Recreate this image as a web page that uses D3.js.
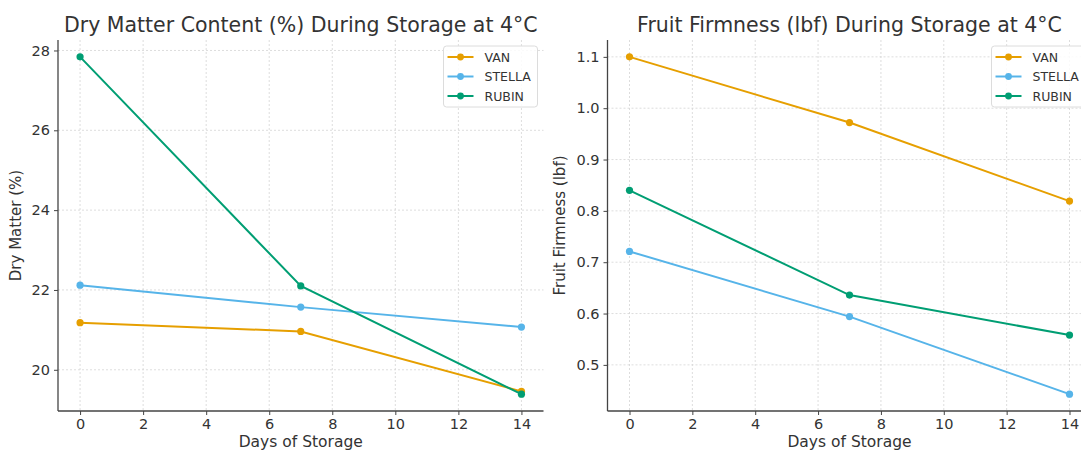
<!DOCTYPE html>
<html>
<head>
<meta charset="utf-8">
<script src="https://cdn.jsdelivr.net/npm/d3@7"></script>
<style>
  body { margin: 0; background: #fff; }
  svg { font-family: 'DejaVu Sans', sans-serif; }
</style>
</head>
<body>
<svg id="chart" width="1081" height="450"></svg>
<script>
const days = [0, 7, 14];
const varieties = ['VAN', 'STELLA', 'RUBIN'];
const colors = ['#E69F00', '#56B4E9', '#009E73'];

const dryVan = [21.18, 20.96, 19.46];
const dryStella = [22.12, 21.57, 21.07];
const dryRubin = [27.84, 22.1, 19.39];

const firmVan = [1.10, 0.972, 0.819];
const firmStella = [0.721, 0.594, 0.443];
const firmRubin = [0.840, 0.636, 0.558];

const xTicks = [0, 2, 4, 6, 8, 10, 12, 14];
const dryTicks = [20, 22, 24, 26, 28];
const firmTicks = [0.5, 0.6, 0.7, 0.8, 0.9, 1.0, 1.1];

const svg = d3.select('#chart');

function panel(opts) {
  const { left, right, top, bottom, title, ylabel, series, yTicks, yFmt, ylabelX } = opts;

  // matplotlib-style 5% margins
  const all = series.flat();
  const ymin = d3.min(all), ymax = d3.max(all);
  const ypad = (ymax - ymin) * 0.05;
  const x = d3.scaleLinear().domain([-0.7, 14.7]).range([left, right]);
  const y = d3.scaleLinear().domain([ymin - ypad, ymax + ypad]).range([bottom, top]);

  const g = svg.append('g');

  // grid
  g.append('g')
    .selectAll('line')
    .data(xTicks)
    .enter()
    .append('line')
    .attr('x1', (d) => x(d)).attr('x2', (d) => x(d))
    .attr('y1', top).attr('y2', bottom)
    .attr('stroke', '#d4d4d4').attr('stroke-width', 0.8)
    .attr('stroke-dasharray', '2,2');

  g.append('g')
    .selectAll('line')
    .data(yTicks)
    .enter()
    .append('line')
    .attr('x1', left).attr('x2', right)
    .attr('y1', (d) => y(d)).attr('y2', (d) => y(d))
    .attr('stroke', '#d4d4d4').attr('stroke-width', 0.8)
    .attr('stroke-dasharray', '2,2');

  // axes
  const xAxis = g.append('g')
    .attr('transform', `translate(0, ${bottom})`)
    .call(d3.axisBottom(x).tickValues(xTicks).tickSize(4).tickPadding(4).tickFormat(d3.format('d')));
  const yAxis = g.append('g')
    .attr('transform', `translate(${left}, 0)`)
    .call(d3.axisLeft(y).tickValues(yTicks).tickSize(4).tickPadding(4).tickFormat(yFmt));

  [xAxis, yAxis].forEach((ax) => {
    ax.select('.domain').attr('stroke', '#444').attr('stroke-width', 1.3);
    ax.selectAll('.tick line').attr('stroke', '#444');
    ax.selectAll('.tick text').attr('fill', '#333').style('font-size', '14.5px').style('font-family', 'DejaVu Sans');
  });
  // drop the outer tick stubs d3 draws on the domain path
  xAxis.select('.domain').attr('d', `M${left},0H${right}`);
  yAxis.select('.domain').attr('d', `M0,${bottom}V${top}`);

  // lines
  const line = d3.line().x((d, i) => x(days[i])).y((d) => y(d));
  series.forEach((vals, k) => {
    g.append('path')
      .datum(vals)
      .attr('fill', 'none')
      .attr('stroke', colors[k])
      .attr('stroke-width', 2)
      .attr('d', line);
    g.append('g')
      .selectAll('circle')
      .data(vals)
      .enter()
      .append('circle')
      .attr('cx', (d, i) => x(days[i]))
      .attr('cy', (d) => y(d))
      .attr('r', 3.6)
      .attr('fill', colors[k]);
  });

  // title and labels
  g.append('text')
    .attr('x', (left + right) / 2).attr('y', 32)
    .attr('text-anchor', 'middle')
    .attr('fill', '#333')
    .style('font-size', '20.5px')
    .text(title);

  g.append('text')
    .attr('x', (left + right) / 2).attr('y', 447)
    .attr('text-anchor', 'middle')
    .attr('fill', '#333')
    .style('font-size', '15.5px')
    .text('Days of Storage');

  g.append('text')
    .attr('transform', `translate(${ylabelX}, ${(top + bottom) / 2}) rotate(-90)`)
    .attr('text-anchor', 'middle')
    .attr('fill', '#333')
    .style('font-size', '15px')
    .text(ylabel);

  // legend
  const lgW = 94, lgH = 61;
  const lgX = right - 6 - lgW, lgY = top + 6;
  const lg = g.append('g').attr('transform', `translate(${lgX}, ${lgY})`);
  lg.append('rect')
    .attr('width', lgW).attr('height', lgH)
    .attr('rx', 3)
    .attr('fill', '#fff').attr('fill-opacity', 0.85)
    .attr('stroke', '#dcdcdc');
  varieties.forEach((name, k) => {
    const ry = 11 + k * 19.5;
    lg.append('line')
      .attr('x1', 4).attr('x2', 30).attr('y1', ry).attr('y2', ry)
      .attr('stroke', colors[k]).attr('stroke-width', 2);
    lg.append('circle')
      .attr('cx', 17).attr('cy', ry).attr('r', 3.4)
      .attr('fill', colors[k]);
    lg.append('text')
      .attr('x', 41).attr('y', ry + 4.5)
      .attr('fill', '#333')
      .style('font-size', '12.5px')
      .text(name);
  });
}

panel({
  left: 58, right: 543.5, top: 40, bottom: 411,
  title: 'Dry Matter Content (%) During Storage at 4°C',
  ylabel: 'Dry Matter (%)',
  series: [dryVan, dryStella, dryRubin],
  yTicks: dryTicks,
  yFmt: d3.format('d'),
  ylabelX: 21
});

panel({
  left: 607.5, right: 1091.5, top: 40, bottom: 411,
  title: 'Fruit Firmness (lbf) During Storage at 4°C',
  ylabel: 'Fruit Firmness (lbf)',
  series: [firmVan, firmStella, firmRubin],
  yTicks: firmTicks,
  yFmt: d3.format('.1f'),
  ylabelX: 565
});
</script>
</body>
</html>
